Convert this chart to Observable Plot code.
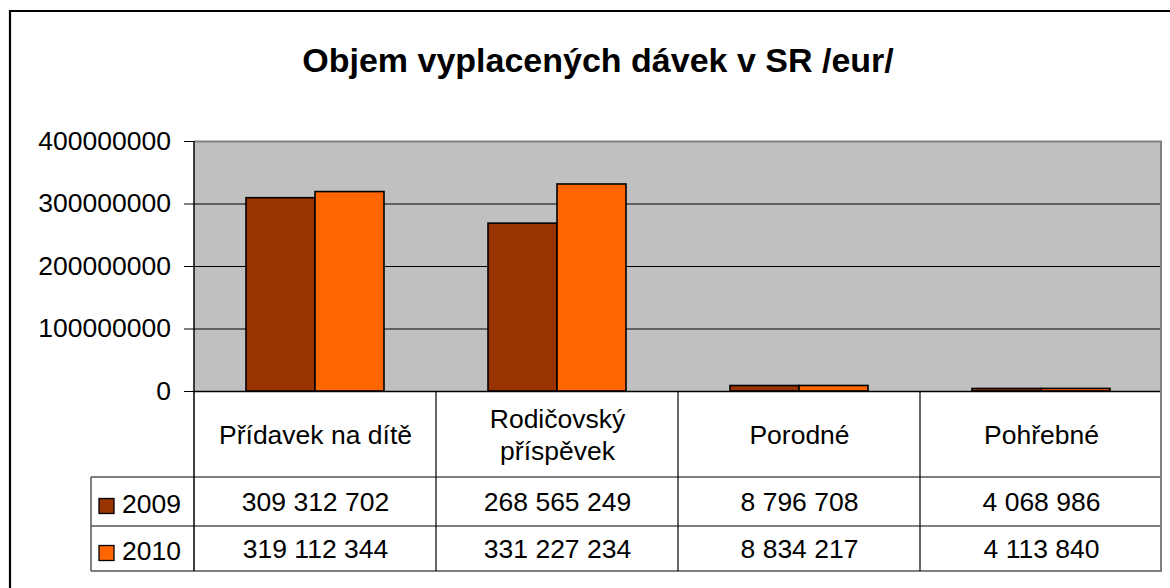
<!DOCTYPE html>
<html>
<head>
<meta charset="utf-8">
<script src="https://cdn.jsdelivr.net/npm/d3@7"></script>
<script src="https://cdn.jsdelivr.net/npm/@observablehq/plot@0.6"></script>
<style>
  html, body { margin: 0; padding: 0; background: #fff; }
  #chart { width: 1170px; height: 588px; overflow: hidden; }
</style>
</head>
<body>
<div id="chart"></div>
<script>
// ---- data ----
const categories = ["Přídavek na dítě", "Rodičovský příspěvek", "Porodné", "Pohřebné"];
const categoryLabels = ["Přídavek na dítě", "Rodičovský\npříspěvek", "Porodné", "Pohřebné"];
const years = ["2009", "2010"];
const values2009 = [309312702, 268565249, 8796708, 4068986];
const values2010 = [319112344, 331227234, 8834217, 4113840];
const yTicks = [0, 100000000, 200000000, 300000000, 400000000];
const gridTicks = [100000000, 200000000, 300000000];
const colors = ["#993300", "#FF6600"];
const title = "Objem vyplacených dávek v SR /eur/";

// ---- tables built from the arrays ----
const seriesValues = [values2009, values2010];
const bars = [];
years.forEach((yr, j) => categories.forEach((c, i) => bars.push({category: c, year: yr, value: seriesValues[j][i]})));
const labelRows = categories.map((c, i) => ({category: c, label: categoryLabels[i]}));
const fmt = d3.formatLocale({decimal: ",", thousands: " ", grouping: [3], currency: ["", ""]}).format(",d");

const FONT = "'Liberation Sans', Arial, Helvetica, sans-serif";
const rowDy = [111, 158];

const plot = Plot.plot({
  width: 1170,
  height: 588,
  marginLeft: 193,
  marginRight: 7,
  marginTop: 141,
  marginBottom: 197,
  style: {fontFamily: FONT, fontSize: "26.5px", background: "white", color: "black", overflow: "visible"},
  fx: {domain: categories, padding: 0, axis: null},
  x: {domain: years, paddingInner: 0, paddingOuter: 0.732, axis: null},
  y: {domain: [0, 400000000], ticks: yTicks, tickFormat: d => String(d), tickSize: 10, tickPadding: 13.5, label: null, line: false},
  color: {domain: years, range: colors},
  marks: [
    Plot.frame({fill: "#C0C0C0", stroke: "none", insetRight: -1.5}),
    Plot.ruleY(gridTicks, {stroke: "black", strokeWidth: 1}),
    Plot.ruleY([400000000], {stroke: "#808080", strokeWidth: 2}),
    Plot.barY(bars, {fx: "category", x: "year", y: "value", fill: "year", stroke: "black", strokeWidth: 1.6}),
    Plot.ruleY([0], {stroke: "black", strokeWidth: 1.5}),
    Plot.text(labelRows, {fx: "category", text: "label", frameAnchor: "bottom", dy: 42, lineAnchor: "middle", lineHeight: 1.22, fill: "black"}),
    ...years.map((yr, j) => Plot.text(bars.filter(b => b.year === yr), {fx: "category", text: d => fmt(d.value), frameAnchor: "bottom", dy: rowDy[j], lineAnchor: "middle", fill: "black"}))
  ]
});

document.getElementById("chart").appendChild(plot);

// ---- data table grid, legend keys, title & chart border via the plot's scales ----
const svg = d3.select(plot);
const fxS = plot.scale("fx");
const yS = plot.scale("y");
const colorS = plot.scale("color");
const bw = fxS.bandwidth != null ? fxS.bandwidth : (fxS.range[1] - fxS.range[0]) / categories.length;
const fxAt = c => fxS.apply(c);
const left = fxAt(categories[0]);
const right = fxAt(categories[categories.length - 1]) + bw;
const yTop = yS.apply(400000000);
const y0 = yS.apply(0);
const headBottom = y0 + 86;
const row1Bottom = headBottom + 49;
const tableBottom = row1Bottom + 45;
const tableLeft = 91;

const g = svg.append("g");
// white cover beyond right edge of the plot area
g.append("rect").attr("x", right).attr("y", yTop - 2).attr("width", 1170 - right).attr("height", tableBottom - yTop + 4).attr("fill", "white");
// horizontal table lines
[headBottom, row1Bottom, tableBottom].forEach(yy =>
  g.append("line").attr("x1", tableLeft).attr("x2", right).attr("y1", yy).attr("y2", yy)
   .attr("stroke", "#555").attr("stroke-width", 1.5));
// left edge of legend column
g.append("line").attr("x1", tableLeft).attr("x2", tableLeft).attr("y1", headBottom).attr("y2", tableBottom)
  .attr("stroke", "#555").attr("stroke-width", 1.5);
// column separators
categories.slice(1).forEach(c => {
  const xx = fxAt(c);
  g.append("line").attr("x1", xx).attr("x2", xx).attr("y1", y0).attr("y2", tableBottom)
   .attr("stroke", "black").attr("stroke-width", 1.2);
});
// right edge (grey)
g.append("line").attr("x1", right - 1).attr("x2", right - 1).attr("y1", yTop).attr("y2", tableBottom)
  .attr("stroke", "#808080").attr("stroke-width", 2);
// value axis line
g.append("line").attr("x1", left).attr("x2", left).attr("y1", yTop).attr("y2", tableBottom)
  .attr("stroke", "black").attr("stroke-width", 1.5);

// legend keys
const rowCenters = [(headBottom + row1Bottom) / 2, (row1Bottom + tableBottom) / 2];
years.forEach((yr, j) => {
  const cy = rowCenters[j];
  g.append("rect").attr("x", 99).attr("y", cy - 3).attr("width", 15).attr("height", 15)
   .attr("fill", colorS.apply(yr)).attr("stroke", "black").attr("stroke-width", 1.3);
  g.append("text").attr("x", 122).attr("y", cy + 2).attr("dy", "0.35em").attr("text-anchor", "start")
   .attr("font-family", FONT).attr("font-size", "26.5px").attr("fill", "black").text(yr);
});

// title
g.append("text").attr("x", 598).attr("y", 72).attr("text-anchor", "middle")
  .attr("font-family", FONT).attr("font-size", "34px").attr("font-weight", "bold").attr("fill", "black")
  .text(title);

// outer chart border (left & top visible)
g.append("path").attr("d", "M10,588 L10,11 L1170,11").attr("fill", "none")
  .attr("stroke", "black").attr("stroke-width", 2.2);
</script>
</body>
</html>
